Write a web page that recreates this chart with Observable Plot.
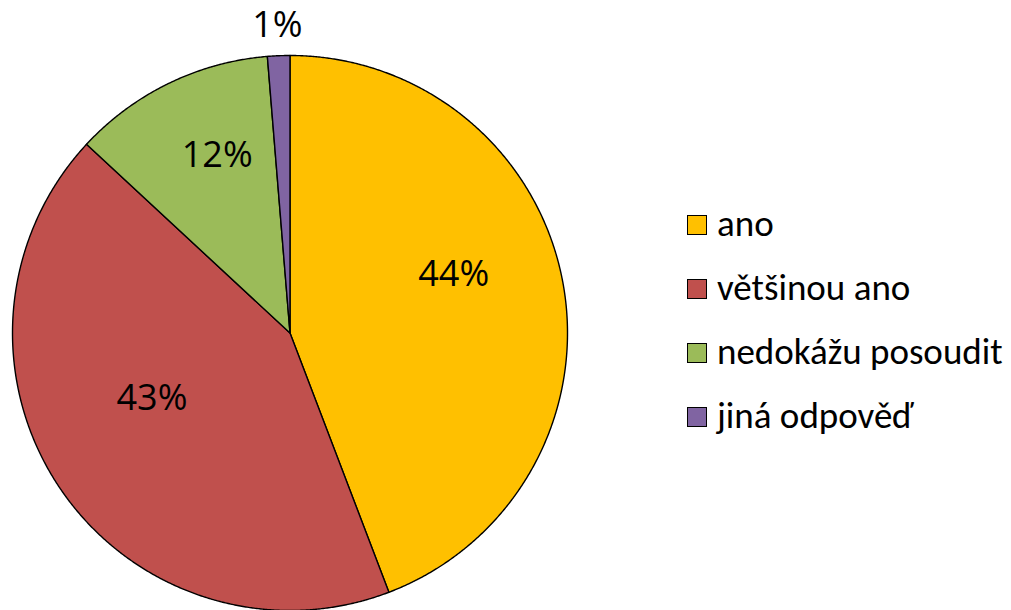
<!DOCTYPE html>
<html>
<head>
<meta charset="utf-8">
<script src="https://cdn.jsdelivr.net/npm/d3@7"></script>
<script src="https://cdn.jsdelivr.net/npm/@observablehq/plot@0.6"></script>
<style>
  html, body { margin: 0; padding: 0; background: #fff; }
  #wrap { position: relative; width: 1011px; height: 610px; font-family: Carlito, Lato, "Liberation Sans", sans-serif; }
  #legend { position: absolute; left: 687px; top: 191px; }
  .item { display: flex; align-items: center; height: 64px; font-size: 37px; color: #000; line-height: 1; }
  .sw { width: 18px; height: 18px; border: 1.5px solid #000; margin-right: 10px; position: relative; top: 2px; }
</style>
</head>
<body>
<div id="wrap"><div id="legend"></div></div>
<script>
const categories = ["ano", "většinou ano", "nedokážu posoudit", "jiná odpověď"];
const values = [44.2, 42.7, 11.8, 1.3];
const colors = ["#FFC000", "#C0504D", "#9BBB59", "#8064A2"];

const total = d3.sum(values);
const pieData = categories.map((c, i) => ({cat: c, value: values[i]}));
const arcs = d3.pie().sort(null).value(d => d.value)(pieData);

// polygon points for each slice (unit circle, angle clockwise from top)
const pts = [];
arcs.forEach(a => {
  const cat = a.data.cat;
  pts.push({cat, x: 0, y: 0});
  const n = Math.max(2, Math.ceil((a.endAngle - a.startAngle) / 0.005));
  for (let k = 0; k <= n; k++) {
    const t = a.startAngle + (a.endAngle - a.startAngle) * k / n;
    pts.push({cat, x: Math.sin(t), y: Math.cos(t)});
  }
  pts.push({cat, x: 0, y: 0});
});

const labels = arcs.map(a => {
  const mid = (a.startAngle + a.endAngle) / 2;
  const share = a.data.value / total;
  const outside = share < 0.05;
  const r = outside ? 1.11 : 0.6;
  return {x: r * Math.sin(mid), y: r * Math.cos(mid), text: Math.round(share * 100) + "%", outside};
});

const chart = Plot.plot({
  width: 1011,
  height: 610,
  marginLeft: 12,
  marginRight: 444,
  marginTop: 55,
  marginBottom: 0,
  x: {domain: [-1, 1], axis: null},
  y: {domain: [-1, 1], axis: null},
  color: {domain: categories, range: colors, type: "ordinal"},
  style: {overflow: "visible"},
  marks: [
    Plot.line(pts, {x: "x", y: "y", z: "cat", fill: "cat", stroke: "#000", strokeWidth: 1.4, curve: "linear"}),
    Plot.text(labels.filter(d => !d.outside), {x: "x", y: "y", text: "text", dy: -28, fontSize: 36, fontFamily: "'Open Sans', Lato, sans-serif", fill: "#000"}),
    Plot.text(labels.filter(d => d.outside), {x: "x", y: "y", text: "text", fontSize: 36, fontFamily: "'Open Sans', Lato, sans-serif", fill: "#000"})
  ]
});
document.getElementById("wrap").prepend(chart);

const color = chart.scale("color");
const legend = d3.select("#legend");
categories.forEach(c => {
  const it = legend.append("div").attr("class", "item");
  it.append("div").attr("class", "sw").style("background", color.apply(c));
  it.append("span").text(c);
});
</script>
</body>
</html>
